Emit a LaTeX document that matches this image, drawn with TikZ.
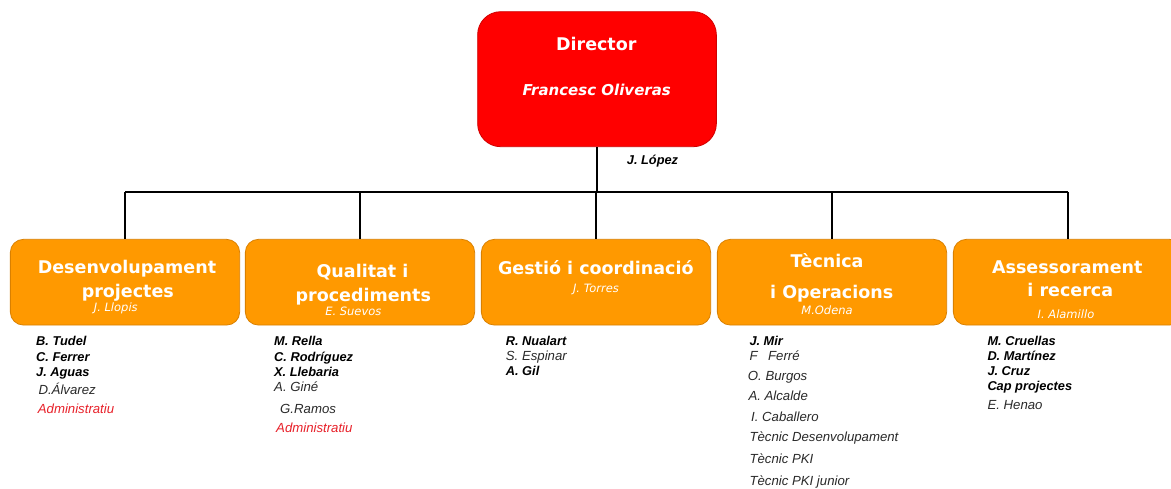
\documentclass[tikz,border=0pt]{standalone}
\usepackage{fontspec}
\setmainfont{Liberation Sans}
\newfontfamily\vfont{DejaVu Sans}
\definecolor{dirred}{HTML}{FF0000}
\definecolor{dirredborder}{HTML}{D00000}
\definecolor{unitorange}{HTML}{FF9900}
\definecolor{unitborder}{HTML}{D98000}
\definecolor{admred}{HTML}{E8212A}
\definecolor{staffgray}{HTML}{2A2A2A}
\tikzset{
  dirbox/.style={rounded corners=23pt, fill=dirred, draw=dirredborder, line width=0.8pt, inner sep=0pt, minimum width=238.7pt, minimum height=135pt},
  unitbox/.style={rounded corners=13pt, fill=unitorange, draw=unitborder, line width=0.8pt, inner sep=0pt, minimum width=229.3pt, minimum height=85.7pt},
  conn/.style={draw=black, line width=1.8pt},
  dirtitle/.style={text=white, anchor=base, inner sep=0pt, font=\vfont\bfseries\fontsize{17.5}{20}\selectfont},
  dirname/.style={text=white, anchor=base, inner sep=0pt, font=\vfont\bfseries\itshape\fontsize{15}{18}\selectfont},
  utitle/.style={text=white, anchor=base, inner sep=0pt, font=\vfont\bfseries\fontsize{17.5}{20}\selectfont},
  usub/.style={text=white, anchor=base, inner sep=0pt, font=\vfont\itshape\fontsize{11.5}{13}\selectfont},
  lead/.style={text=black, anchor=base west, inner sep=0pt, font=\bfseries\itshape\fontsize{12.8}{14}\selectfont},
  staff/.style={text=staffgray, anchor=base west, inner sep=0pt, font=\itshape\fontsize{13.2}{15}\selectfont},
  admin/.style={staff, text=admred},
}
\begin{document}
\begin{tikzpicture}[x=1pt, y=-1pt]
\useasboundingbox (0,0) rectangle (1171,489);
\clip (0,0) rectangle (1171,489);
\fill[white] (0,0) rectangle (1171,489);

% director
\node[dirbox] (dir) at (597,79.2) {};
\node[dirtitle] (dirT) at (596.3,50.7) {Director};
\node[dirname] (dirN) at (596.7,95.7) {Francesc Oliveras};
\node[lead] (lopez) at (626.7,165) {J. López};

% units
\node[unitbox] (u1) at (125,282.2) {};
\node[unitbox] (u2) at (360,282.2) {};
\node[unitbox] (u3) at (596,282.2) {};
\node[unitbox] (u4) at (832,282.2) {};
\node[unitbox] (u5) at (1068,282.2) {};

% connectors
\coordinate (busL) at (125,192);
\coordinate (busR) at (1068,192);
\draw[conn] (dir.south) -- (dir.south |- busL);
\draw[conn] (busL) -- (busR);
\draw[conn] (u1.north |- busL) -- (u1.north);
\draw[conn] (u2.north |- busL) -- (u2.north);
\draw[conn] (u3.north |- busL) -- (u3.north);
\draw[conn] (u4.north |- busL) -- (u4.north);
\draw[conn] (u5.north |- busL) -- (u5.north);

% unit titles
\node[utitle] (t1a) at (127,274) {Desenvolupament};
\node[utitle] (t1b) at (127.8,297.7) {projectes};
\node[usub] (s1) at (115.8,311.7) {J. Llopis};

\node[utitle] (t2a) at (362.5,277.7) {Qualitat i};
\node[utitle] (t2b) at (363.3,301.7) {procediments};
\node[usub] (s2) at (353.3,316) {E. Suevos};

\node[utitle] (t3a) at (595.8,275) {Gestió i coordinació};
\node[usub] (s3) at (596,292.7) {J. Torres};

\node[utitle] (t4a) at (827,267.7) {Tècnica};
\node[utitle] (t4b) at (831.7,298.3) {i Operacions};
\node[usub] (s4) at (827,315) {M.Odena};

\node[utitle] (t5a) at (1067.3,274) {Assessorament};
\node[utitle] (t5b) at (1070.3,296.7) {i recerca};
\node[usub] (s5) at (1066,318.3) {I. Alamillo};

% staff lists
\node[lead] (a1) at (36,345.5) {B. Tudel};
\node[lead] (a2) at (36,361.5) {C. Ferrer};
\node[lead] (a3) at (36,377) {J. Aguas};
\node[staff] (a4) at (38.3,394.3) {D.Álvarez};
\node[admin] (a5) at (37.7,413) {Administratiu};

\node[lead] (b1) at (274,345.5) {M. Rella};
\node[lead] (b2) at (274,361.5) {C. Rodríguez};
\node[lead] (b3) at (274,377) {X. Llebaria};
\node[staff] (b4) at (274,391.7) {A. Giné};
\node[staff] (b5) at (280,413) {G.Ramos};
\node[admin] (b6) at (276,432) {Administratiu};

\node[lead] (c1) at (505.7,345) {R. Nualart};
\node[staff] (c2) at (505.7,360) {S. Espinar};
\node[lead] (c3) at (505.7,375) {A. Gil};

\node[lead] (d1) at (749.3,345) {J. Mir};
\node[staff] (d2) at (749.3,360) {F\hspace{0.8em}Ferré};
\node[staff] (d3) at (747.7,380.7) {O. Burgos};
\node[staff] (d4) at (748.3,400) {A. Alcalde};
\node[staff] (d5) at (751,421.7) {I. Caballero};
\node[staff] (d6) at (749.3,441.7) {Tècnic Desenvolupament};
\node[staff] (d7) at (749.3,463) {Tècnic PKI};
\node[staff] (d8) at (749.3,485) {Tècnic PKI junior};

\node[lead] (e1) at (987.3,345) {M. Cruellas};
\node[lead] (e2) at (987.3,360) {D. Martínez};
\node[lead] (e3) at (987.3,375) {J. Cruz};
\node[lead] (e4) at (987.3,390) {Cap projectes};
\node[staff] (e5) at (987.3,409) {E. Henao};
\end{tikzpicture}
\end{document}
